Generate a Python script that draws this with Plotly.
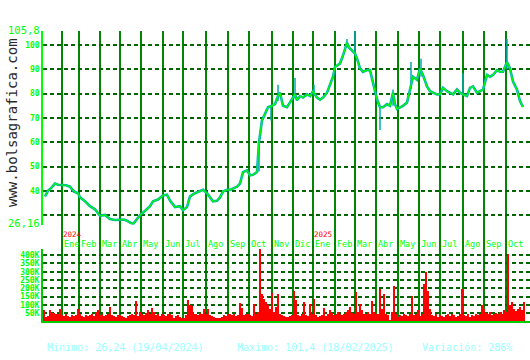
import plotly.graph_objects as go

# ---------------- data ----------------
# session index (1 unit = 1 trading session)
price_sessions = [2, 5, 9, 12, 15, 19, 23, 27, 31, 35, 37, 42, 47, 52, 57, 62, 67, 72, 77, 81,
                  84, 87, 90, 94, 98, 102, 107, 110, 115, 120, 124, 127, 132, 137, 140, 144, 147, 152, 157, 160,
                  164, 167, 170, 174, 177, 180, 184, 187, 190, 194, 197, 200, 204, 207, 210, 214, 216, 217, 219, 222,
                  225, 229, 232, 235, 237, 240, 244, 247, 250, 252, 254, 257, 260, 264, 267, 270, 274, 277, 280, 284,
                  287, 290, 292, 294, 297, 300, 302, 304, 306, 309, 312, 314, 317, 320, 324, 327, 330, 332, 334, 337,
                  340, 344, 347, 350, 352, 354, 357, 360, 364, 367, 370, 374, 377, 380, 384, 387, 390, 394, 397, 400,
                  404, 407, 410, 414, 417, 420, 424, 427, 430, 434, 437, 440, 444, 447, 450, 454, 457, 460, 464, 467,
                  470, 474, 477, 480]
price_close = [37.7, 40.0, 41.5, 43.0, 42.5, 42.5, 42.3, 41.7, 39.7, 39.0, 37.3, 35.7, 33.7, 32.4, 29.7, 30.1, 28.4, 28.0, 28.0, 28.2,
               27.7, 27.0, 26.2, 28.4, 30.4, 31.7, 33.7, 35.7, 36.4, 38.1, 38.4, 36.0, 33.3, 33.7, 32.0, 33.3, 37.7, 39.0, 39.7, 40.4,
               39.0, 37.3, 35.7, 35.9, 37.3, 39.7, 40.4, 40.4, 41.0, 41.7, 43.0, 47.7, 48.4, 46.4, 46.6, 47.7, 60.0, 63.7, 69.0, 71.7,
               74.4, 75.0, 75.7, 79.0, 80.4, 75.0, 74.4, 76.4, 78.4, 79.7, 77.3, 79.0, 78.4, 79.7, 79.0, 81.0, 78.4, 77.5, 78.4, 80.4,
               83.7, 87.0, 91.0, 91.7, 92.4, 95.7, 98.4, 101.0, 99.0, 97.7, 96.5, 94.5, 90.4, 89.0, 89.7, 89.7, 85.0, 81.0, 77.7, 74.4,
               74.4, 75.7, 75.0, 80.4, 75.7, 73.7, 74.4, 75.0, 76.4, 82.4, 87.0, 85.7, 90.4, 87.7, 83.0, 81.0, 80.4, 79.7, 79.7, 82.4,
               81.0, 80.4, 79.7, 81.7, 80.4, 79.7, 79.0, 82.4, 83.0, 80.4, 81.0, 81.7, 87.7, 87.0, 87.7, 89.7, 89.0, 89.0, 93.0, 90.4,
               85.0, 81.7, 77.0, 74.5]

# intraday extremes for the most visible wicks
wick_sessions = [216, 228, 235, 252, 271, 304, 312, 337, 350, 368, 378, 420, 464]
wick_low = [48.0, 69.0, 77.0, 78.0, 79.0, 99.0, 96.0, 65.0, 75.0, 82.0, 87.0, 80.0, 90.0]
wick_high = [60.0, 75.0, 83.7, 86.5, 83.7, 102.5, 105.8, 75.0, 81.7, 93.0, 94.4, 88.4, 102.5]

# volume (thousands of shares), one bar per two sessions
vol_start, vol_step = 1, 2
volume_k = [73, 31, 37, 73, 54, 54, 50, 44, 75, 40,
            35, 45, 35, 30, 40, 35, 38, 79, 45, 35,
            30, 40, 35, 38, 45, 35, 60, 70, 40, 45,
            35, 40, 50, 89, 40, 35, 30, 38, 40, 35,
            30, 25, 35, 40, 45, 40, 124, 35, 60, 45,
            40, 55, 70, 50, 85, 60, 40, 50, 35, 45,
            40, 35, 50, 45, 40, 21, 35, 40, 30, 21,
            25, 40, 132, 99, 95, 45, 50, 40, 55, 45,
            79, 45, 79, 40, 35, 30, 25, 22, 25, 30,
            40, 35, 45, 50, 40, 45, 35, 40, 112, 85,
            40, 45, 50, 40, 35, 105, 45, 60, 440, 167,
            138, 118, 99, 80, 172, 60, 89, 165, 50, 40,
            35, 30, 28, 35, 40, 187, 130, 40, 35, 45,
            118, 40, 35, 105, 45, 138, 40, 30, 35, 40,
            85, 35, 45, 70, 55, 40, 50, 60, 45, 40,
            50, 60, 70, 90, 55, 50, 177, 60, 109, 70,
            45, 50, 60, 45, 128, 60, 45, 50, 196, 80,
            167, 45, 40, 10, 60, 216, 45, 30, 40, 35,
            45, 40, 35, 45, 157, 40, 50, 70, 35, 45,
            225, 303, 187, 80, 40, 35, 45, 30, 40, 35,
            30, 40, 50, 35, 45, 40, 30, 35, 45, 196,
            40, 35, 45, 30, 40, 35, 45, 40, 50, 99,
            80, 55, 45, 60, 40, 50, 55, 45, 60, 50,
            70, 60, 410, 100, 120, 75, 65, 80, 89, 70,
            118]
vol_sessions = [vol_start + vol_step * i for i in range(len(volume_k))]

month_sessions = [19, 36, 57, 77, 98, 120, 140, 163, 185, 206, 229, 250,
                  270, 292, 312, 333, 355, 376, 397, 420, 441, 463]
month_labels = ["Ene", "Feb", "Mar", "Abr", "May", "Jun", "Jul", "Ago", "Sep", "Oct", "Nov", "Dic",
                "Ene", "Feb", "Mar", "Abr", "May", "Jun", "Jul", "Ago", "Sep", "Oct"]
year_sessions = [19, 270]
year_labels = ["2024", "2025"]

price_min, price_max = 26.16, 105.8
price_ticks = [26.16, 30, 40, 50, 60, 70, 80, 90, 100, 105.8]
price_ticktext = ['<span style="font-size:10.5px">26,16</span>', '', '<b>40</b>', '<b>50</b>', '<b>60</b>',
                  '<b>70</b>', '<b>80</b>', '<b>90</b>', '<b>100</b>', '<span style="font-size:10.5px">105,8</span>']
vol_ticks = [50, 100, 150, 200, 250, 300, 350, 400]
vol_ticktext = ['<b>50K</b>', '<b>100K</b>', '<b>150K</b>', '<b>200K</b>', '<b>250K</b>', '<b>300K</b>',
                '<b>350K</b>', '<b>400K</b>']
vol_max = 439

stat_min = "Minimo: 26,24 (19/04/2024)"
stat_max = "Maximo: 101,4 (18/02/2025)"
stat_var = "Variación: 286%"

# ---------------- figure ----------------
W, H = 530, 360
LEFT = 43
MONO = "DejaVu Sans Mono"


def py(pix):
    return 1 - pix / H


fig = go.Figure()

fig.add_trace(go.Bar(x=vol_sessions, y=volume_k, width=vol_step,
                     marker=dict(color="#ff0000", line=dict(width=0)),
                     xaxis="x2", yaxis="y2", hoverinfo="skip"))

wx, wy = [], []
for s, lo, hi in zip(wick_sessions, wick_low, wick_high):
    wx += [s, s, None]
    wy += [lo, hi, None]
fig.add_trace(go.Scatter(x=wx, y=wy, mode="lines", line=dict(color="#00aab4", width=1.5),
                         xaxis="x", yaxis="y", hoverinfo="skip"))
fig.add_trace(go.Scatter(x=price_sessions, y=price_close, mode="lines",
                         line=dict(color="#00aab4", width=2.6), xaxis="x", yaxis="y", hoverinfo="skip"))
fig.add_trace(go.Scatter(x=price_sessions, y=price_close, mode="lines",
                         line=dict(color="#00ff00", width=1.2), xaxis="x", yaxis="y", hoverinfo="skip"))

shapes = []
for s in month_sessions:
    shapes.append(dict(type="line", xref="x", yref="paper", x0=s, x1=s, y0=py(326), y1=py(24.8),
                       line=dict(color="#008800", width=2), layer="below"))

annotations = []
for s, lab in zip(month_sessions, month_labels):
    annotations.append(dict(x=s + 0.5, y=py(245.5), xref="x", yref="paper", text=lab, showarrow=False,
                            xanchor="left", yanchor="middle", borderpad=0,
                            font=dict(family=MONO, size=8.5, color="#00ff00")))
for s, lab in zip(year_sessions, year_labels):
    annotations.append(dict(x=s, y=py(235.5), xref="x", yref="paper", text=lab, showarrow=False,
                            xanchor="left", yanchor="middle", borderpad=0,
                            font=dict(family=MONO, size=7.5, color="#ff0000")))
annotations.append(dict(x=12 / W, y=py(120), xref="paper", yref="paper", text="www.bolsagrafica.com",
                        showarrow=False, textangle=-90, xanchor="center", yanchor="middle",
                        font=dict(family=MONO, size=14, color="#2a2a2a")))
for xpix, txt in [(45, stat_min), (235, stat_max), (420, stat_var)]:
    annotations.append(dict(x=xpix / W, y=py(352), xref="paper", yref="paper", text=txt, showarrow=False,
                            xanchor="left", yanchor="middle",
                            font=dict(family=MONO, size=10, color="#99ffff")))

fig.update_layout(
    width=W, height=H, margin=dict(l=0, r=0, t=0, b=0),
    paper_bgcolor="white", plot_bgcolor="white", showlegend=False, bargap=0,
    xaxis=dict(domain=[LEFT / W, 1], range=[0, W - LEFT], anchor="y", showgrid=False,
               showticklabels=False, zeroline=False, showline=False, ticks=""),
    xaxis2=dict(domain=[LEFT / W, 1], range=[0, W - LEFT], anchor="y2", matches="x", showgrid=False,
                showticklabels=False, zeroline=False, showline=True, linecolor="#00cc00", linewidth=2,
                ticks=""),
    yaxis=dict(domain=[py(225), py(24.8)], range=[price_min - 0.02, price_max + 0.02], anchor="x",
               tickvals=price_ticks, ticktext=price_ticktext, ticks="",
               tickfont=dict(family=MONO, size=8, color="#00ff00"),
               showgrid=True, gridcolor="#006600", gridwidth=1.5, griddash="4px,3px",
               zeroline=False, showline=True, linecolor="#00ff00", linewidth=1.5),
    yaxis2=dict(domain=[py(325.3), py(250)], range=[0, vol_max], anchor="x2",
                tickvals=vol_ticks, ticktext=vol_ticktext, ticks="",
                tickfont=dict(family=MONO, size=8, color="#00ff00"),
                showgrid=True, gridcolor="#006600", gridwidth=1.5, griddash="4px,3px",
                zeroline=False, showline=True, linecolor="#00cc00", linewidth=2),
    shapes=shapes, annotations=annotations,
)

fig.write_html("out.html")
